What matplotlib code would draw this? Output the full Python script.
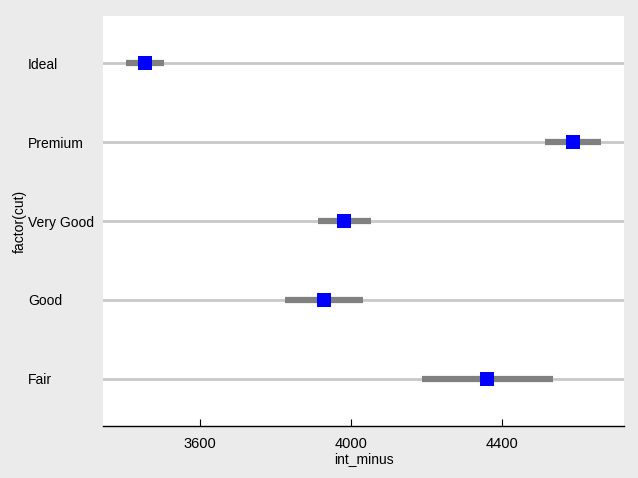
import numpy as np
import matplotlib.pyplot as plt

plt.rcParams['font.family'] = ['Liberation Sans', 'DejaVu Sans']

# categories from bottom to top
cuts = ['Fair', 'Good', 'Very Good', 'Premium', 'Ideal']
means = [4360, 3928, 3981, 4588, 3454]
lower = [4188, 3825, 3913, 4514, 3404]
upper = [4535, 4032, 4053, 4662, 3505]
xticks = [3600, 4000, 4400]

bg = '#ebebeb'
fig = plt.figure(figsize=(6.38, 4.78), dpi=100, facecolor=bg)
ax = fig.add_axes([103 / 638, 52 / 478, 521 / 638, 410 / 478])
ax.set_facecolor('white')

y = np.arange(len(cuts))
for yi in y:
    ax.axhline(yi, color='#c8c8c8', lw=2, zorder=1)
ax.hlines(y, lower, upper, color='#808080', lw=4.5, zorder=2)
ax.scatter(means, y, marker='s', s=115, color='#0000ff', zorder=3, linewidths=0)

ax.set_xlim(3343, 4723)
ax.set_ylim(-0.6, 4.6)
ax.set_xticks(xticks)
ax.set_xticklabels([str(t) for t in xticks])
ax.set_yticks(y)
ax.set_yticklabels(cuts)
for lab in ax.get_yticklabels():
    lab.set_ha('left')
ax.tick_params(axis='y', length=0, pad=75 * 72 / 100, labelsize=10)
ax.tick_params(axis='x', direction='in', length=5, width=0.8, pad=8, labelsize=10.5)

for side in ['left', 'right', 'top']:
    ax.spines[side].set_visible(False)
ax.spines['bottom'].set_color('black')
ax.spines['bottom'].set_linewidth(1)

ax.set_xlabel('int_minus', fontsize=10, labelpad=0.5)
fig.text(20 / 638, 1 - 221 / 478, 'factor(cut)', rotation=90, ha='center', va='center', fontsize=10)

fig.savefig('out.png', dpi=100, facecolor=bg)
